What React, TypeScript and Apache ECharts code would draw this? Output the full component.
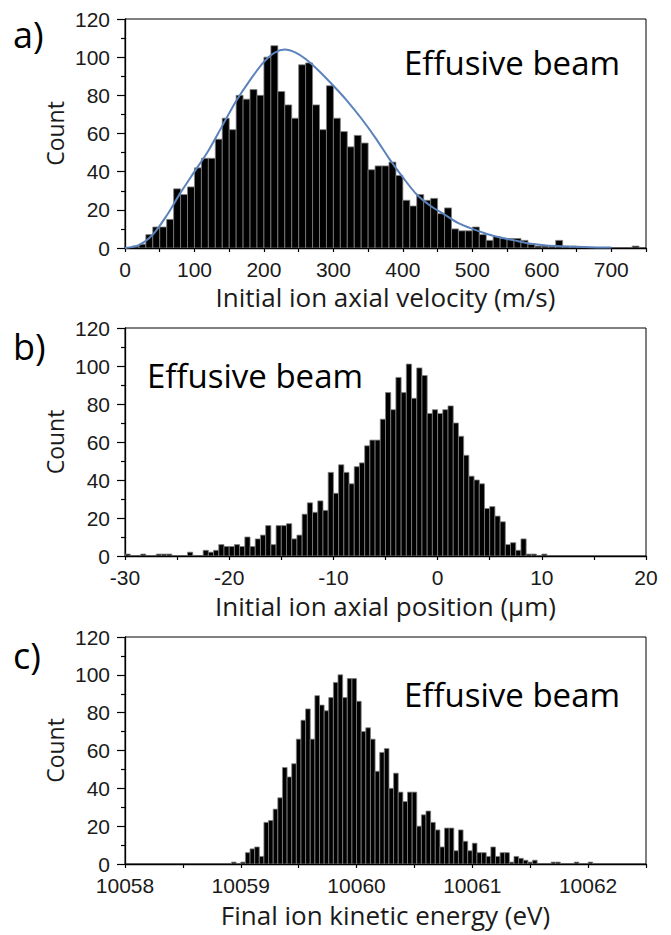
import React, { useEffect, useRef } from 'react';
import * as echarts from 'echarts';

// ---------- Panel a: initial ion axial velocity (m/s), bins of 10 m/s starting at 0 ----------
const VEL_BIN_START = 0;
const VEL_BIN_WIDTH = 10;
const velCounts = [
  0, 1, 2, 7, 11, 11, 15, 31, 28, 32,
  42, 47, 47, 57, 68, 62, 80, 78, 83, 80,
  100, 106, 82, 75, 68, 96, 97, 75, 62, 85,
  68, 61, 53, 59, 55, 41, 43, 43, 45, 38,
  25, 22, 28, 25, 26, 18, 21, 10, 9, 9,
  11, 7, 4, 6, 5, 5, 5, 4, 2, 1,
  1, 1, 4, 1, 1, 0, 0, 0, 0, 0,
  0, 0, 0, 1, 0,
];
// fitted distribution curve
const fitVelocity = [0, 20, 40, 60, 80, 100, 120, 140, 160, 180, 200, 215, 230, 245, 260, 280, 300, 320, 340, 360, 380, 400, 420, 440, 460, 480, 500, 520, 540, 560, 580, 600, 620, 640, 660, 680, 700];
const fitCount = [0, 1.5, 7, 17, 29, 40, 51, 64, 77, 88, 97.5, 102.3, 104, 102.5, 99, 92.5, 85, 77, 68, 58, 47, 37, 28, 22, 17.5, 13, 10, 7.5, 5.5, 4, 2.5, 1.6, 1, 0.7, 0.5, 0.3, 0.2];

// ---------- Panel b: initial ion axial position (µm), bins of 0.5 µm starting at -30 ----------
const POS_BIN_START = -30;
const POS_BIN_WIDTH = 0.5;
const posCounts = [
  1, 0, 0, 1, 0, 0, 1, 1, 1, 0,
  0, 0, 2, 0, 0, 3, 2, 3, 6, 5,
  5, 6, 5, 10, 5, 9, 11, 16, 6, 16,
  16, 17, 9, 11, 22, 28, 23, 29, 24, 44,
  33, 48, 44, 38, 47, 49, 58, 61, 61, 72,
  86, 77, 94, 86, 101, 83, 99, 95, 75, 77,
  75, 77, 79, 70, 63, 53, 42, 40, 38, 25,
  26, 21, 18, 6, 7, 3, 9, 1, 1, 0,
  1,
];

// ---------- Panel c: final ion kinetic energy (eV), bins of 0.04 eV starting at 10058.92 ----------
const KE_BIN_START = 10058.92;
const KE_BIN_WIDTH = 0.04;
const keCounts = [
  1, 0, 1, 6, 8, 9, 4, 22, 23, 29,
  35, 51, 46, 53, 66, 76, 82, 66, 89, 84,
  81, 88, 96, 100, 88, 98, 98, 86, 70, 72,
  66, 49, 59, 61, 40, 48, 38, 33, 38, 38,
  20, 26, 28, 22, 18, 9, 19, 19, 7, 18,
  12, 7, 11, 6, 6, 4, 9, 4, 6, 6,
  1, 4, 3, 2, 1, 2, 0, 0, 0, 1,
  1, 0, 0, 0, 1, 0, 0, 1,
];

const panelLabels = ['a)', 'b)', 'c)'];
const xTitles = ['Initial ion axial velocity (m/s)', 'Initial ion axial position (µm)', 'Final ion kinetic energy (eV)'];
const yTitle = 'Count';
const beamLabel = 'Effusive beam';

const toBins = (start: number, width: number, counts: number[]) =>
  counts
    .map((c, i) => [start + i * width, start + (i + 1) * width, c])
    .filter((d) => d[2] > 0);

const GRIDS = [
  { left: 125, top: 19, width: 521, height: 229 },
  { left: 125, top: 328, width: 521, height: 228 },
  { left: 125, top: 637, width: 521, height: 227 },
];

const TICK_FONT = { fontFamily: '"Liberation Sans", Arial, sans-serif', fontSize: 21, color: '#1a1a1a' };
const TITLE_FONT = '"Open Sans", sans-serif';

const renderHist = (params: any, api: any) => {
  const x0 = api.value(0);
  const x1 = api.value(1);
  const c = api.value(2);
  const p0 = api.coord([x0, c]);
  const p1 = api.coord([x1, 0]);
  return {
    type: 'rect',
    shape: { x: p0[0], y: p0[1], width: p1[0] - p0[0], height: p1[1] - p0[1] },
    style: { fill: '#000', stroke: '#808080', lineWidth: 0.8 },
  };
};

const makeX = (idx: number, min: number, max: number, interval: number, labelStep: number, labelMax: number) => ({
  type: 'value',
  gridIndex: idx,
  min,
  max,
  interval,
  axisLine: { show: true, onZero: false, lineStyle: { color: '#000', width: 1.3 } },
  axisTick: { show: true, length: 4, interval: 0, lineStyle: { color: '#000', width: 1.2 } },
  splitLine: { show: false },
  axisLabel: {
    ...TICK_FONT,
    margin: 11,
    interval: 0,
    formatter: (v: number) => {
      const r = Math.round(v / labelStep);
      return Math.abs(v - r * labelStep) < 1e-6 && v <= labelMax + 1e-6 ? String(Math.round(v * 1000) / 1000) : '';
    },
  },
});

const makeY = (idx: number) => ({
  type: 'value',
  gridIndex: idx,
  min: 0,
  max: 120,
  interval: 20,
  axisLine: { show: true, onZero: false, lineStyle: { color: '#000', width: 1.3 } },
  axisTick: { show: true, length: 8, lineStyle: { color: '#000', width: 1.2 } },
  minorTick: { show: true, splitNumber: 2, length: 4, lineStyle: { color: '#000', width: 1.2 } },
  splitLine: { show: false },
  axisLabel: { ...TICK_FONT, margin: 15 },
});

export default function App() {
  const ref = useRef<HTMLDivElement>(null);
  useEffect(() => {
    const chart = echarts.init(ref.current!, null, { renderer: 'svg' });
    const graphics: any[] = [];
    const labelY = [34, 346, 655];
    const beamPos = [
      [404, 62],
      [147, 375],
      [404, 694],
    ];
    const titleY = [297, 606, 915];
    GRIDS.forEach((g, i) => {
      graphics.push({
        type: 'text',
        x: 13,
        y: labelY[i],
        style: { text: panelLabels[i], font: `36px ${TITLE_FONT}`, fill: '#000', textAlign: 'left', textVerticalAlign: 'middle' },
      });
      graphics.push({
        type: 'text',
        x: beamPos[i][0],
        y: beamPos[i][1],
        style: { text: beamLabel, font: `33px ${TITLE_FONT}`, fill: '#000', textAlign: 'left', textVerticalAlign: 'middle' },
      });
      graphics.push({
        type: 'text',
        x: 55,
        y: g.top + g.height / 2,
        rotation: Math.PI / 2,
        style: { text: yTitle, font: `23px ${TITLE_FONT}`, fill: '#1a1a1a', textAlign: 'center', textVerticalAlign: 'middle' },
      });
      graphics.push({
        type: 'text',
        x: g.left + g.width / 2,
        y: titleY[i],
        style: { text: xTitles[i], font: `26px ${TITLE_FONT}`, fill: '#1a1a1a', textAlign: 'center', textVerticalAlign: 'middle' },
      });
    });

    const option: any = {
      animation: false,
      backgroundColor: '#fff',
      grid: GRIDS.map((g) => ({ ...g, show: true, borderColor: '#000', borderWidth: 1, backgroundColor: 'transparent' })),
      xAxis: [
        makeX(0, 0, 750, 50, 100, 700),
        makeX(1, -30, 20, 5, 10, 20),
        makeX(2, 10058, 10062.5, 0.5, 1, 10062),
      ],
      yAxis: [makeY(0), makeY(1), makeY(2)],
      series: [
        {
          type: 'custom',
          xAxisIndex: 0,
          yAxisIndex: 0,
          data: toBins(VEL_BIN_START, VEL_BIN_WIDTH, velCounts),
          encode: { x: [0, 1], y: 2 },
          renderItem: renderHist,
          clip: true,
        },
        {
          type: 'line',
          xAxisIndex: 0,
          yAxisIndex: 0,
          data: fitVelocity.map((v, i) => [v, fitCount[i]]),
          smooth: 0.3,
          showSymbol: false,
          lineStyle: { color: '#5b82bb', width: 2 },
          z: 5,
        },
        {
          type: 'custom',
          xAxisIndex: 1,
          yAxisIndex: 1,
          data: toBins(POS_BIN_START, POS_BIN_WIDTH, posCounts),
          encode: { x: [0, 1], y: 2 },
          renderItem: renderHist,
          clip: true,
        },
        {
          type: 'custom',
          xAxisIndex: 2,
          yAxisIndex: 2,
          data: toBins(KE_BIN_START, KE_BIN_WIDTH, keCounts),
          encode: { x: [0, 1], y: 2 },
          renderItem: renderHist,
          clip: true,
        },
      ],
      graphic: graphics,
    };
    chart.setOption(option);
    return () => chart.dispose();
  }, []);
  return (
    <div
      ref={ref}
      style={{ position: 'absolute', left: 0, top: 0, width: 671, height: 935, background: '#fff' }}
    />
  );
}
